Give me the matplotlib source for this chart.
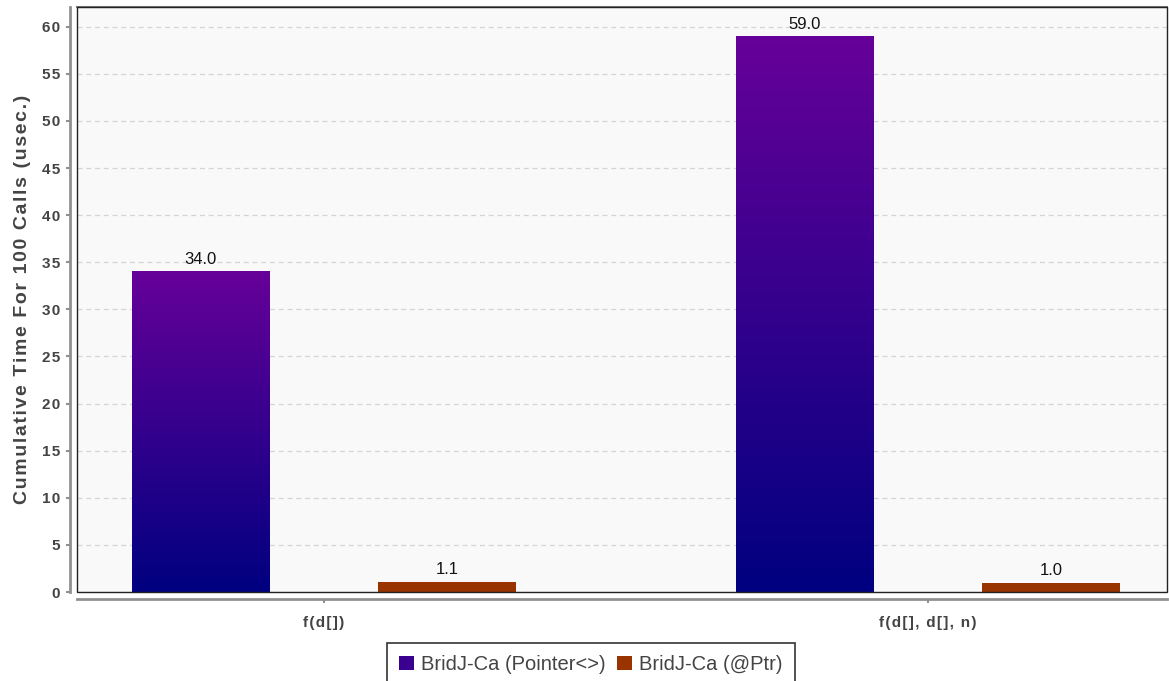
import numpy as np
import matplotlib
matplotlib.use("Agg")
import matplotlib.pyplot as plt
from matplotlib.colors import LinearSegmentedColormap
from matplotlib.patches import Patch, Rectangle

plt.rcParams["font.family"] = ["Liberation Sans", "DejaVu Sans"]

# data
categories = ["f(d[])", "f(d[], d[], n)"]
series_names = ["BridJ-Ca (Pointer<>)", "BridJ-Ca (@Ptr)"]
pointer_vals = [34.0, 59.0]
ptr_vals = [1.1, 1.0]
y_ticks = list(range(0, 61, 5))


def spaced(s):
    # the reference draws bold axis text with a little letter spacing
    return "\u200a".join(s)


fig = plt.figure(figsize=(11.69, 6.81), dpi=100)
ax = fig.add_axes([77 / 1169, 89 / 681, 1090 / 1169, 585 / 681])
ax.set_facecolor("#f9f9f9")

x = np.arange(len(categories))
width = 0.2285
offset = 0.204

# gradient bars (purple top -> navy bottom)
grad = LinearSegmentedColormap.from_list("pg", ["#000080", "#660099"])
bars1 = ax.bar(x - offset, pointer_vals, width, facecolor="none", edgecolor="none", zorder=3)
g = np.linspace(0, 1, 256).reshape(-1, 1)
for b in bars1:
    x0, y0 = b.get_x(), b.get_y()
    ax.imshow(g, cmap=grad, aspect="auto", origin="lower",
              extent=[x0, x0 + b.get_width(), y0, y0 + b.get_height()], zorder=3)
bars2 = ax.bar(x + offset, ptr_vals, width, color="#993300", zorder=3)

for b, v in list(zip(bars1, pointer_vals)) + list(zip(bars2, ptr_vals)):
    ax.text(b.get_x() + b.get_width() / 2, v + 0.45, f"{v:.1f}",
            ha="center", va="bottom", fontsize=12, color="#111111", zorder=4)

ax.set_xlim(-0.409, 1.396)
ax.set_ylim(0, 62.1)

ax.grid(axis="y", linestyle=(0, (4, 3)), color="#d4d4d4", linewidth=0.9, zorder=0)
ax.set_axisbelow(True)

# axis lines offset from the plot area, JFreeChart style
for side in ["left", "bottom"]:
    ax.spines[side].set_position(("outward", 5))
    ax.spines[side].set_color("#909090")
    ax.spines[side].set_linewidth(2)
ax.spines["top"].set_color("#808080")
ax.spines["top"].set_linewidth(1.5)
ax.spines["right"].set_visible(False)
ax.add_patch(Rectangle((0, 0), 1, 1, transform=ax.transAxes, fill=False,
                       edgecolor="#222222", linewidth=1, zorder=5, clip_on=False))

# ticks and labels set after the spines are moved (moving them resets ticks)
ax.set_yticks(y_ticks)
ax.set_yticklabels([spaced(str(t)) for t in y_ticks], fontsize=11,
                   fontweight="bold", color="#444444")
ax.set_xticks(x)
ax.set_xticklabels([spaced(c) for c in categories], fontsize=11,
                   fontweight="bold", color="#444444")
ax.tick_params(axis="both", color="#909090", length=3, width=1.5)
ax.tick_params(axis="y", pad=4)
ax.tick_params(axis="x", pad=9)

ax.set_ylabel(spaced("Cumulative Time For 100 Calls (usec.)"), fontsize=14,
              fontweight="bold", color="#444444", labelpad=8)

handles = [Patch(facecolor="#3a0090", edgecolor="none"),
           Patch(facecolor="#993300", edgecolor="none")]
leg = fig.legend(handles, series_names, loc="upper center",
                 bbox_to_anchor=(591 / 1169, 38 / 681), ncol=2, fontsize=14.5,
                 frameon=True, fancybox=False, edgecolor="black",
                 handlelength=0.75, handleheight=0.75, handletextpad=0.35,
                 columnspacing=0.55, borderpad=0.6, borderaxespad=0)
leg.get_frame().set_linewidth(1.2)
for t in leg.get_texts():
    t.set_color("#444444")

fig.savefig("out.png", dpi=100)
